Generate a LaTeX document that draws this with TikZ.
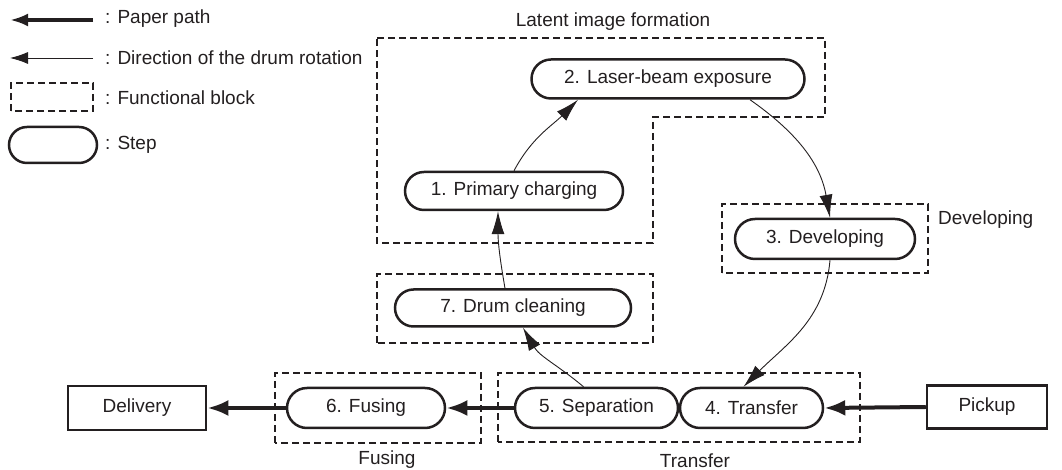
\documentclass[tikz,border=0pt]{standalone}
\usepackage{fontspec}
\setmainfont{Liberation Sans}
\usetikzlibrary{arrows.meta,shapes.misc}
\definecolor{ink}{RGB}{35,31,32}
\tikzset{
  stepbox/.style={rounded rectangle, draw=ink, line width=2.5pt, inner sep=0pt, minimum height=38pt, text=ink},
  endbox/.style={rectangle, draw=ink, line width=2.5pt, inner sep=0pt, minimum height=44pt, text=ink},
  block/.style={draw=ink, line width=1.4pt, dash pattern=on 7pt off 4pt},
  paper/.style={draw=ink, line width=4pt, -{Latex[length=21pt,width=16pt]}},
  drum/.style={draw=ink, line width=0.9pt, -{Latex[length=23pt,width=13pt]}},
  lbl/.style={text=ink, inner sep=0pt}
}

\begin{document}
\begin{tikzpicture}[x=1pt,y=1pt,font=\fontsize{19}{22}\selectfont]
    \useasboundingbox (0,0) rectangle (1062,470);

    % 图例
    \coordinate (lp0) at (93,450); \coordinate (lp1) at (10,450);
    \coordinate (ld0) at (93,412); \coordinate (ld1) at (10,412);
    \draw[paper, line width=3.5pt, -{Latex[length=18pt,width=13pt]}] (lp0) -- (lp1); % 纸路径
    \draw[drum, -{Latex[length=18pt,width=12pt]}] (ld0) -- (ld1); % 鼓旋转方向
    \draw[block] (11,359) rectangle (93,387); % 功能块
    \node[stepbox, minimum width=88pt, minimum height=36pt] (lstep) at (53,325) {}; % 步骤
    \node[lbl, anchor=west] (lpaper) at (105,451) {: Paper path};
    \node[lbl, anchor=west] (ldrum) at (105,412) {: Direction of the drum rotation};
    \node[lbl, anchor=west] (lblock) at (105,372) {: Functional block};
    \node[lbl, anchor=west] (lsteptext) at (105,325) {: Step};

    % 功能块
    \draw[block] (377,432) -- (825,432) -- (825,353) -- (653,353) -- (653,227) -- (377,227) -- cycle; % 潜像形成
    \draw[block] (722,197) rectangle (928,266); % 显影
    \draw[block] (377,127) rectangle (653,196); % 鼓清洁
    \draw[block] (498,28) rectangle (860,97);   % 转印
    \draw[block] (275,27) rectangle (481,97);   % 定影
    \node[lbl] (tlatent) at (613,448) {Latent image formation};
    \node[lbl, anchor=west] (tdev) at (938,250) {Developing};
    \node[lbl] (ttrans) at (695,9) {Transfer};
    \node[lbl] (tfus) at (387,10) {Fusing};

    % 步骤
    \node[stepbox, minimum width=218pt] (s1) at (514,279) {1. Primary charging};
    \node[stepbox, minimum width=273pt, minimum height=39pt] (s2) at (668,391) {2. Laser-beam exposure};
    \node[stepbox, minimum width=180pt, minimum height=40pt] (s3) at (825,231) {3. Developing};
    \node[stepbox, minimum width=143pt, minimum height=40pt] (s4) at (751.5,62) {4. Transfer};
    \node[stepbox, minimum width=163pt, minimum height=40pt] (s5) at (596.5,62) {5. Separation};
    \node[stepbox, minimum width=158pt, minimum height=40pt] (s6) at (366,62) {6. Fusing};
    \node[stepbox, minimum width=236pt, minimum height=37pt] (s7) at (513,162) {7. Drum cleaning};
    \node[endbox, minimum width=138pt] (delivery) at (137,62) {Delivery};
    \node[endbox, minimum width=120pt, minimum height=43pt] (pickup) at (987,63) {Pickup};

    % 鼓旋转
    \draw[drum] (s1.north) to[out=62, in=225] ([xshift=-90pt]s2.south);
    \draw[drum] ([xshift=82pt]s2.south) to[out=-35, in=100] ([xshift=5pt]s3.north);
    \draw[drum] ([xshift=5pt]s3.south) to[out=-95, in=45] ([xshift=-8pt]s4.north);
    \draw[drum] ([xshift=-13pt]s5.north) to[out=140, in=-60] ([xshift=10pt]s7.south);
    \draw[drum] ([xshift=-8pt]s7.north) to[out=100, in=-90] ([xshift=-16pt]s1.south);

    % 纸路径
    \draw[paper] (pickup.west) -- (s4.east);
    \draw[paper] (s5.west) -- (s6.east);
    \draw[paper] (s6.west) -- (delivery.east);
\end{tikzpicture}
\end{document}
